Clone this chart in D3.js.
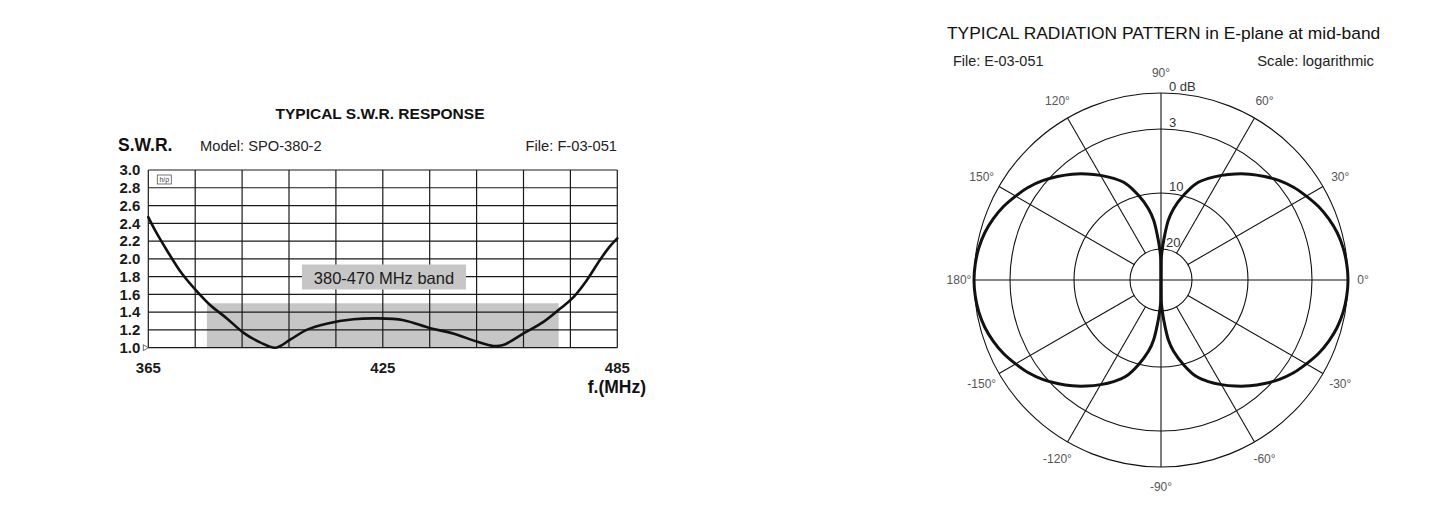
<!DOCTYPE html>
<html>
<head>
<meta charset="utf-8">
<script src="https://cdn.jsdelivr.net/npm/d3@7"></script>
<style>
  body { margin: 0; background: #fff; }
  text { font-family: "Liberation Sans", Arial, sans-serif; }
</style>
</head>
<body>
<script>
// ---- S.W.R. response data ----
const swrFreq = [365, 367, 369.7, 373.5, 377.1, 380.8, 385.1, 389.3, 393.6, 397.6, 401.3, 405.5, 410.6, 417.5, 423.4, 430.3, 437.1, 443, 449, 453.3, 455.8, 461, 466.1, 470.4, 473.8, 477.2, 480.6, 483.1, 485];
const swrValue = [2.47, 2.3, 2.1, 1.84, 1.65, 1.48, 1.33, 1.17, 1.06, 1.0, 1.09, 1.2, 1.27, 1.32, 1.33, 1.31, 1.22, 1.16, 1.07, 1.02, 1.03, 1.16, 1.29, 1.44, 1.57, 1.76, 1.99, 2.14, 2.23];
const swrTicks = [1.0, 1.2, 1.4, 1.6, 1.8, 2.0, 2.2, 2.4, 2.6, 2.8, 3.0];
const freqLabels = [365, 425, 485];
const band = [380, 470, 1.5];

// ---- radiation pattern data (angle deg, level dB below max) ----
const patternAngles = [-90, -89, -88, -86, -83, -80, -75, -70, -65, -60, -55, -50, -45, -40, -35, -30, -25, -20, -15, -10, -5,
  0, 5, 10, 15, 20, 25, 30, 35, 40, 45, 50, 55, 60, 65, 70, 75, 80, 83, 86, 88, 89, 90,
  91, 92, 94, 97, 100, 105, 110, 115, 120, 125, 130, 135, 140, 145, 150, 155, 160, 165, 170, 175,
  180, 185, 190, 195, 200, 205, 210, 215, 220, 225, 230, 235, 240, 245, 250, 255, 260, 263, 266, 268, 269, 270];
const patternDb = [40, 25, 21.5, 18.3, 14.8, 12.6, 9.9, 8.3, 7.25, 6.3, 5.35, 4.4, 3.5, 2.7, 2.1, 1.6, 1.1, 0.7, 0.38, 0.17, 0.05,
  0, 0.05, 0.17, 0.38, 0.7, 1.1, 1.6, 2.1, 2.7, 3.5, 4.4, 5.35, 6.3, 7.25, 8.3, 9.9, 12.6, 14.8, 18.3, 21.5, 25, 40,
  25, 21.5, 18.3, 14.8, 12.6, 9.9, 8.3, 7.25, 6.3, 5.35, 4.4, 3.5, 2.7, 2.1, 1.6, 1.1, 0.7, 0.38, 0.17, 0.05,
  0, 0.05, 0.17, 0.38, 0.7, 1.1, 1.6, 2.1, 2.7, 3.5, 4.4, 5.35, 6.3, 7.25, 8.3, 9.9, 12.6, 14.8, 18.3, 21.5, 25, 40];
const dbRings = [0, 3, 10, 20];
const dbLabels = ["0  dB", "3", "10", "20"];
const spokeAngles = [0, 30, 60, 90, 120, 150, 180, -150, -120, -90, -60, -30];

const W = 1442, H = 505;
const svg = d3.select("body").append("svg").attr("width", W).attr("height", H);

// ================= S.W.R. chart =================
const plot = { left: 148.3, top: 170, width: 469, height: 177.7 };
const x = d3.scaleLinear().domain([365, 485]).range([0, plot.width]);
const y = d3.scaleLinear().domain([1, 3]).range([plot.height, 0]);
const g = svg.append("g").attr("transform", `translate(${plot.left},${plot.top})`);

// band of interest
g.append("rect")
  .attr("x", x(band[0])).attr("y", y(band[2]))
  .attr("width", x(band[1]) - x(band[0])).attr("height", y(1) - y(band[2]))
  .style("fill", "#c6c6c6");

// grid
g.selectAll(".hgrid").data(swrTicks).enter().append("line")
  .attr("x1", 0).attr("x2", plot.width)
  .attr("y1", (d) => y(d)).attr("y2", (d) => y(d))
  .style("stroke", "#1a1a1a").style("stroke-width", 1.2);
g.selectAll(".vgrid").data(d3.range(365, 486, 12)).enter().append("line")
  .attr("x1", (d) => x(d)).attr("x2", (d) => x(d))
  .attr("y1", 0).attr("y2", plot.height)
  .style("stroke", "#1a1a1a").style("stroke-width", 1.2);

// band label box
const bandLabel = g.append("g").attr("transform", `translate(${x(425.3)},${y(1.79)})`);
bandLabel.append("rect").attr("x", -82).attr("y", -13).attr("width", 164).attr("height", 25)
  .style("fill", "#c6c6c6");
bandLabel.append("text").attr("text-anchor", "middle").attr("y", 6)
  .style("font-size", "16.5px").style("fill", "#1a1a1a").text("380-470 MHz band");

// little logo in the corner
const logo = g.append("g").attr("transform", "translate(9,5)");
logo.append("rect").attr("width", 14).attr("height", 9).style("fill", "none")
  .style("stroke", "#555").style("stroke-width", 0.8);
logo.append("text").attr("x", 7).attr("y", 7.3).attr("text-anchor", "middle")
  .style("font-size", "7px").style("fill", "#444").text("h/ρ");

// marker at 1.0
g.append("path").attr("d", `M-5,${y(1) - 3}L0,${y(1)}L-5,${y(1) + 3}Z`)
  .style("fill", "#fff").style("stroke", "#444").style("stroke-width", 0.8);

// curve
const swrLine = d3.line().x((d) => x(d[0])).y((d) => y(d[1])).curve(d3.curveCatmullRom.alpha(0.5));
g.append("path").datum(d3.zip(swrFreq, swrValue)).attr("d", swrLine)
  .style("fill", "none").style("stroke", "#111").style("stroke-width", 2.6)
  .style("stroke-linejoin", "round").style("stroke-linecap", "round");

// y labels
g.selectAll(".ylab").data(swrTicks).enter().append("text")
  .attr("x", -8).attr("y", (d) => y(d) + 5.2).attr("text-anchor", "end")
  .style("font-size", "15px").style("font-weight", "bold").style("fill", "#1a1a1a")
  .text((d) => d3.format(".1f")(d));
// x labels
g.selectAll(".xlab").data(freqLabels).enter().append("text")
  .attr("x", (d) => x(d)).attr("y", plot.height + 25).attr("text-anchor", "middle")
  .style("font-size", "15px").style("font-weight", "bold").style("fill", "#1a1a1a")
  .text((d) => d);

svg.append("text").attr("x", 380).attr("y", 119).attr("text-anchor", "middle")
  .style("font-size", "15.5px").style("font-weight", "bold").style("fill", "#111")
  .text("TYPICAL S.W.R. RESPONSE");
svg.append("text").attr("x", 118).attr("y", 151)
  .style("font-size", "17.5px").style("font-weight", "bold").style("fill", "#111").text("S.W.R.");
svg.append("text").attr("x", 200).attr("y", 150.5)
  .style("font-size", "14.7px").style("fill", "#222").text("Model:  SPO-380-2");
svg.append("text").attr("x", 617).attr("y", 150.5).attr("text-anchor", "end")
  .style("font-size", "14.7px").style("fill", "#222").text("File:  F-03-051");
svg.append("text").attr("x", 646).attr("y", 393).attr("text-anchor", "end")
  .style("font-size", "17.5px").style("font-weight", "bold").style("fill", "#111").text("f.(MHz)");

// ================= radiation pattern =================
const cx = 1161, cy = 280;
const r = d3.scaleLinear().domain([0, 3, 10, 20, 40]).range([187, 151, 87, 31, 0]).clamp(true);
const rad = (deg) => (deg * Math.PI) / 180;
const pg = svg.append("g").attr("transform", `translate(${cx},${cy})`);

pg.selectAll(".ring").data(dbRings).enter().append("circle")
  .attr("r", (d) => r(d)).style("fill", "none")
  .style("stroke", "#111").style("stroke-width", 1.1);

pg.selectAll(".spoke").data(spokeAngles).enter().append("line")
  .attr("x1", (d) => (d % 90 === 0 ? 0 : r(20) * Math.cos(rad(d))))
  .attr("y1", (d) => (d % 90 === 0 ? 0 : -r(20) * Math.sin(rad(d))))
  .attr("x2", (d) => r(0) * Math.cos(rad(d)))
  .attr("y2", (d) => -r(0) * Math.sin(rad(d)))
  .style("stroke", "#111").style("stroke-width", 1.1);

const labelR = (d) => (d % 180 === 0 ? 202 : 207);
pg.selectAll(".alab").data(spokeAngles).enter().append("text")
  .attr("x", (d) => labelR(d) * Math.cos(rad(d)))
  .attr("y", (d) => -labelR(d) * Math.sin(rad(d)) + 4)
  .attr("text-anchor", "middle")
  .style("font-size", "12px").style("fill", "#555")
  .text((d) => `${d}°`);

pg.selectAll(".dblab").data(dbRings).enter().append("text")
  .attr("x", (d, i) => (i === 3 ? 5 : 8))
  .attr("y", (d) => -r(d) - 2)
  .style("font-size", "13px").style("fill", "#333")
  .text((d, i) => dbLabels[i]);

const pattern = d3.zip(patternAngles, patternDb);
const lobeLine = d3.lineRadial()
  .angle((d) => rad(90 - d[0]))
  .radius((d) => r(d[1]))
  .curve(d3.curveCatmullRom.alpha(0.5));
const lobes = [pattern.filter((d) => d[0] <= 90), pattern.filter((d) => d[0] >= 90)];
pg.selectAll(".lobe").data(lobes).enter().append("path")
  .attr("d", lobeLine)
  .style("fill", "none").style("stroke", "#111").style("stroke-width", 3)
  .style("stroke-linejoin", "round");

svg.append("text").attr("x", 947).attr("y", 39)
  .style("font-size", "17.4px").style("fill", "#111")
  .text("TYPICAL RADIATION PATTERN in E-plane at mid-band");
svg.append("text").attr("x", 953).attr("y", 66)
  .style("font-size", "14.4px").style("fill", "#222").text("File:  E-03-051");
svg.append("text").attr("x", 1374).attr("y", 66).attr("text-anchor", "end")
  .style("font-size", "14.8px").style("fill", "#222").text("Scale: logarithmic");

svg.attr("xmlns", "http://www.w3.org/2000/svg");
</script>
</body>
</html>
